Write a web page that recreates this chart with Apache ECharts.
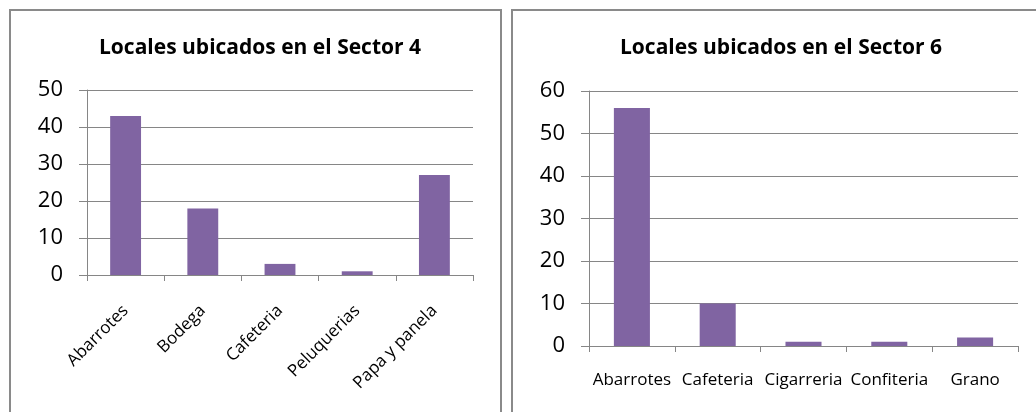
<!DOCTYPE html>
<html>
<head>
<meta charset="utf-8">
<script src="https://cdn.jsdelivr.net/npm/echarts@6/dist/echarts.min.js"></script>
<style>
html,body{margin:0;padding:0;background:#fff;}
#c{width:1036px;height:412px;}
</style>
</head>
<body>
<div id="c"></div>
<script>
var titles = ['Locales ubicados en el Sector 4', 'Locales ubicados en el Sector 6'];
var categories4 = ['Abarrotes', 'Bodega', 'Cafeteria', 'Peluquerias', 'Papa y panela'];
var values4 = [43, 18, 3, 1, 27];
var categories6 = ['Abarrotes', 'Cafeteria', 'Cigarreria', 'Confiteria', 'Grano'];
var values6 = [56, 10, 1, 1, 2];
var yMax = [50, 60];
var yInterval = 10;

var FONT = '"Open Sans", "DejaVu Sans", sans-serif';
var GRID = '#868686';
var BAR = '#8064A2';

var chart = echarts.init(document.getElementById('c'), null, {renderer: 'canvas'});

function xAxis(idx, cats, rotate, margin, size) {
  return {
    type: 'category', gridIndex: idx, data: cats,
    axisLine: {lineStyle: {color: GRID, width: 1}},
    axisTick: {show: true, alignWithLabel: false, length: 6, lineStyle: {color: GRID}},
    axisLabel: {interval: 0, rotate: rotate, margin: margin, color: '#000', fontSize: size, fontFamily: FONT, hideOverlap: false}
  };
}
function yAxis(idx, max) {
  return {
    type: 'value', gridIndex: idx, min: 0, max: max, interval: yInterval,
    axisLine: {show: true, lineStyle: {color: GRID, width: 1}},
    axisTick: {show: true, inside: false, length: 8, lineStyle: {color: GRID}},
    splitLine: {show: true, lineStyle: {color: GRID, width: 1}},
    axisLabel: {margin: 24, color: '#000', fontSize: 22, fontFamily: FONT}
  };
}

chart.setOption({
  animation: false,
  title: [
    {text: titles[0], left: 255, top: 33, textAlign: 'center',
     textStyle: {fontFamily: FONT, fontWeight: 'bold', fontSize: 21, color: '#000'}},
    {text: titles[1], left: 776, top: 33, textAlign: 'center',
     textStyle: {fontFamily: FONT, fontWeight: 'bold', fontSize: 21, color: '#000'}}
  ],
  graphic: [
    {type: 'rect', shape: {x: 10, y: 10, width: 491, height: 420}, style: {fill: 'none', stroke: '#8a8a8a', lineWidth: 2}, silent: true},
    {type: 'rect', shape: {x: 512, y: 10, width: 540, height: 420}, style: {fill: 'none', stroke: '#8a8a8a', lineWidth: 2}, silent: true}
  ],
  grid: [
    {left: 87, top: 90, width: 386, height: 185, containLabel: false},
    {left: 589, top: 91, width: 429, height: 255, containLabel: false}
  ],
  xAxis: [
    xAxis(0, categories4, 45, 33, 17),
    xAxis(1, categories6, 0, 26, 17)
  ],
  yAxis: [
    yAxis(0, yMax[0]),
    yAxis(1, yMax[1])
  ],
  series: [
    {type: 'bar', xAxisIndex: 0, yAxisIndex: 0, data: values4, barWidth: '40%', itemStyle: {color: BAR}},
    {type: 'bar', xAxisIndex: 1, yAxisIndex: 1, data: values6, barWidth: '42%', itemStyle: {color: BAR}}
  ]
});
</script>
</body>
</html>
